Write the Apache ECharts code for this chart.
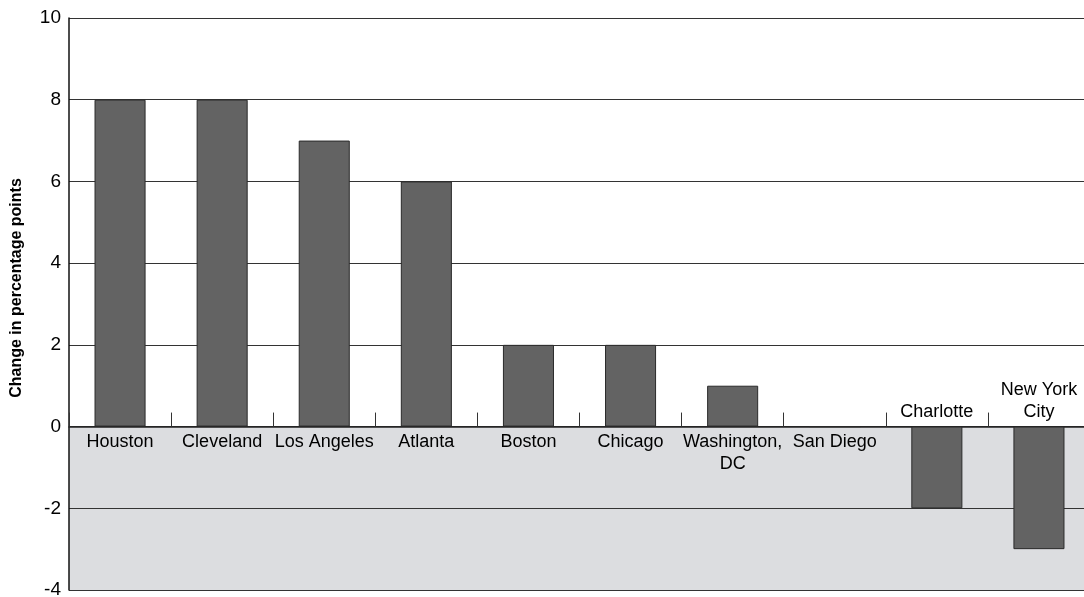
<!DOCTYPE html>
<html>
<head>
<meta charset="utf-8">
<script src="https://cdn.jsdelivr.net/npm/echarts@6/dist/echarts.min.js"></script>
<style>
html,body{margin:0;padding:0;background:#fff;}
#chart{width:1084px;height:597px;}
</style>
</head>
<body>
<div id="chart"></div>
<script>
const categories = ['Houston', 'Cleveland', 'Los Angeles', 'Atlanta', 'Boston', 'Chicago', 'Washington,\nDC', 'San Diego', 'Charlotte', 'New York\nCity'];
const values = [8, 8, 7, 6, 2, 2, 1, 0, -2, -3];
const yTicks = [-4, -2, 0, 2, 4, 6, 8, 10];
const yTitle = 'Change in percentage points';

const FONT = '"Liberation Sans", Arial, sans-serif';
const chart = echarts.init(document.getElementById('chart'));
chart.setOption({
  animation: false,
  grid: { left: 69, width: 1021, top: 18, height: 572, containLabel: false, outerBoundsMode: 'none' },
  xAxis: {
    type: 'category',
    data: categories,
    boundaryGap: true,
    axisLine: { show: true, onZero: true, lineStyle: { color: '#222', width: 1.5 } },
    axisTick: { show: true, inside: true, length: 14, alignWithLabel: false, lineStyle: { color: '#333', width: 1 } },
    axisLabel: { show: false },
    splitLine: { show: false }
  },
  yAxis: {
    type: 'value',
    min: yTicks[0],
    max: yTicks[yTicks.length - 1],
    interval: 2,
    name: yTitle,
    nameLocation: 'middle',
    nameGap: 44,
    nameRotate: 90,
    nameTextStyle: { fontFamily: FONT, fontSize: 16, fontWeight: 'bold', color: '#000', padding: [0, 0, 0, 32] },
    axisLine: { show: true, lineStyle: { color: '#111', width: 1.5 } },
    axisTick: { show: false },
    axisLabel: { fontFamily: FONT, fontSize: 19, color: '#000', margin: 8 },
    splitLine: { show: true, lineStyle: { color: '#333', width: 1.2 } },
    splitArea: { show: true, areaStyle: { color: ['#dcdde0', '#dcdde0', '#ffffff', '#ffffff', '#ffffff', '#ffffff', '#ffffff'] } }
  },
  series: [{
    type: 'bar',
    barWidth: '50%',
    data: values.map(v => ({ value: v, label: { position: v < 0 ? 'top' : 'bottom' } })),
    itemStyle: { color: '#636363', borderColor: '#2a2a2a', borderWidth: 1 },
    label: {
      show: true,
      formatter: p => p.name,
      fontFamily: FONT,
      fontSize: 18,
      lineHeight: 22,
      color: '#000',
      distance: 4,
      align: 'center'
    }
  }]
});
</script>
</body>
</html>
